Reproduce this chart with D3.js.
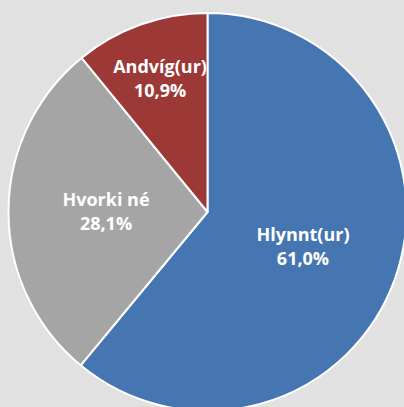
<!DOCTYPE html>
<html><head><meta charset="utf-8">
<script src="https://cdn.jsdelivr.net/npm/d3@7"></script>
<style>html,body{margin:0;padding:0;background:#e1e1e1;}svg{display:block;}</style>
</head><body>
<svg id="c" width="404" height="407"></svg>
<script>
const categories = ["Hlynnt(ur)", "Hvorki né", "Andvíg(ur)"];
const values = [61.0, 28.1, 10.9];
const colors = ["#4676b2", "#a5a5a5", "#9c3835"];

const W = 404, H = 407, cx = 207.5, cy = 212, R = 199;
const svg = d3.select("#c");
svg.append("rect").attr("width", W).attr("height", H).attr("fill", "#e1e1e1");
const g = svg.append("g").attr("transform", `translate(${cx},${cy})`);

const data = categories.map((c, i) => ({cat: c, val: values[i], color: colors[i]}));
const pie = d3.pie().value(d => d.val).sort(null);
const arcs = pie(data);
const arc = d3.arc().innerRadius(0).outerRadius(R);

g.selectAll("path").data(arcs).join("path")
  .attr("d", arc)
  .attr("fill", d => d.data.color)
  .attr("stroke", "#ffffff")
  .attr("stroke-width", 2)
  .attr("stroke-linejoin", "round");

const fmt = v => v.toFixed(1).replace(".", ",") + "%";
arcs.forEach(d => {
  const lr = d.data.val < 15 ? R * 0.71 : R * 0.51;
  const la = d3.arc().innerRadius(lr).outerRadius(lr);
  const [x, y] = la.centroid(d);
  const t = g.append("text")
    .attr("text-anchor", "middle")
    .attr("fill", "#ffffff")
    .attr("font-family", "'Open Sans', sans-serif")
    .attr("font-weight", "bold")
    .attr("font-size", 18);
  t.append("tspan").attr("x", x).attr("y", y - 5.5).text(d.data.cat);
  t.append("tspan").attr("x", x).attr("y", y + 18.5).text(fmt(d.data.val));
});
</script>
</body></html>
